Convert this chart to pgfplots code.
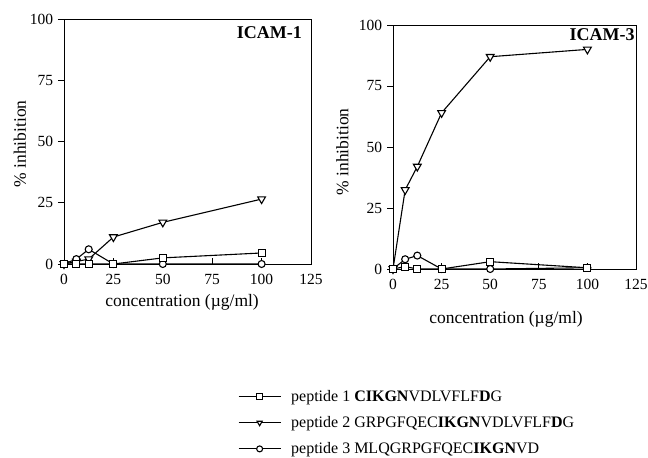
\documentclass[border=0pt]{standalone}
\usepackage{fontspec}
\setmainfont{Liberation Serif}
\usepackage{pgfplots}
\pgfplotsset{compat=1.18}
\begin{document}
\fontsize{14bp}{16bp}\selectfont
\begin{tikzpicture}
\path[use as bounding box] (0bp,0bp) rectangle (648bp,458bp);
\pgfplotsset{
  common/.style={
    scale only axis, xmin=0, xmax=125, ymin=0, ymax=100,
    xtick={0,25,...,125}, ytick={0,25,...,100},
    clip=false, axis line style={line width=0.9bp},
    tick pos=left,
    tick style={black, line width=0.8bp},
    xtick align=inside, ytick align=outside,
    major tick length=6bp,
    tick label style={font=\fontsize{15.5bp}{18bp}\selectfont},
    xticklabel style={yshift=-5bp},
    /pgf/number format/assume math mode=true,
    label style={font=\fontsize{17.5bp}{20bp}\selectfont},
  },
  p1/.style={black, line width=1.1bp, mark=square*, mark options={fill=white, solid}, mark size=3.5bp},
  p2/.style={black, line width=1.1bp, mark=triangle*, mark options={fill=white, solid, rotate=180}, mark size=4.5bp},
  p3/.style={black, line width=1.1bp, mark=*, mark options={fill=white, solid}, mark size=3.5bp},
}
% ---------- ICAM-1 ----------
\begin{axis}[common, at={(64bp,194bp)}, anchor=south west, width=247bp, height=245bp,
  xlabel={concentration (µg/ml)}, ylabel={\% inhibition},
  xlabel style={at={(axis description cs:0.478,-0.158)}, anchor=center},
  ylabel style={at={(axis description cs:-0.178,0.49)}, anchor=center},
  legend style={at={(axis description cs:0.704,-0.505)}, anchor=north west, draw=none, fill=none,
    font=\fontsize{16bp}{18bp}\selectfont, row sep=9bp, inner sep=0pt,
    /tikz/every odd column/.append style={column sep=8bp}},
  legend cell align=left,
  legend image code/.code={\draw[mark repeat=2, mark phase=2, #1, mark size=3bp] plot coordinates {(0bp,0bp) (21bp,0bp) (42bp,0bp)};},
]
\addplot[p2, forget plot] coordinates {(0,0)(6.25,1)(12.5,2)(25,11)(50,17)(100,26.5)};
\addplot[p3, forget plot] coordinates {(0,0)(6.25,2)(12.5,6)(25,0)(50,0)(100,0)};
\addplot[p1, forget plot] coordinates {(0,0)(6.25,0)(12.5,0)(25,0)(50,2.5)(100,4.5)};
\addlegendimage{p1}
\addlegendentry{peptide 1 \textbf{CIKGN}VDLVFLF\textbf{D}G}
\addlegendimage{p2}
\addlegendentry{peptide 2 GRPGFQEC\textbf{IKGN}VDLVFLF\textbf{D}G}
\addlegendimage{p3}
\addlegendentry{peptide 3 MLQGRPGFQEC\textbf{IKGN}VD}
\node[anchor=north east, font=\bfseries\fontsize{18bp}{20bp}\selectfont, inner sep=0pt] at (axis description cs:0.964,0.971) {ICAM-1};
\end{axis}
% ---------- ICAM-3 ----------
\begin{axis}[common, at={(393bp,189bp)}, anchor=south west, width=243bp, height=244bp,
  xlabel={concentration (µg/ml)}, ylabel={\% inhibition},
  xlabel style={at={(axis description cs:0.465,-0.205)}, anchor=center},
  ylabel style={at={(axis description cs:-0.208,0.48)}, anchor=center},
]
\addplot[p2] coordinates {(0,0)(6.25,32.4)(12.5,42)(25,64)(50,87)(100,90)};
\addplot[p3] coordinates {(0,0)(6.25,4)(12.5,5.5)(25,0)(50,0)(100,0.5)};
\addplot[p1] coordinates {(0,0)(6.25,1)(12.5,0)(25,0)(50,3)(100,0.5)};
\node[anchor=north east, font=\bfseries\fontsize{18bp}{20bp}\selectfont, inner sep=0pt] at (axis description cs:0.995,0.988) {ICAM-3};
\end{axis}
\end{tikzpicture}
\end{document}
